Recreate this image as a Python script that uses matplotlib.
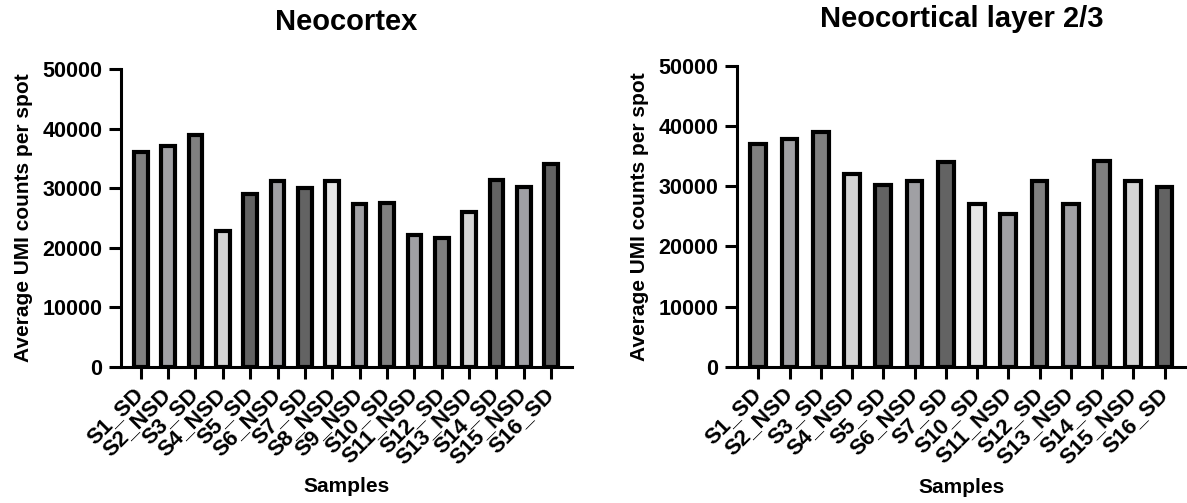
import matplotlib
matplotlib.use("Agg")
import matplotlib.pyplot as plt

plt.rcParams['font.family'] = ['Liberation Sans', 'DejaVu Sans']
plt.rcParams['font.weight'] = 'bold'

# Data
left_title = "Neocortex"
left_labels = ["S1_SD", "S2_NSD", "S3_SD", "S4_NSD", "S5_SD", "S6_NSD", "S7_SD", "S8_NSD",
               "S9_NSD", "S10_SD", "S11_NSD", "S12_SD", "S13_NSD", "S14_SD", "S15_NSD", "S16_SD"]
left_values = [36100, 37100, 39000, 22800, 29000, 31200, 30100, 31200,
               27400, 27600, 22200, 21700, 26000, 31300, 30200, 34100]
left_colors = ["#808080", "#a0a0a4", "#808080", "#d4d4d4", "#636363", "#a0a0a4", "#636363", "#e6e6e6",
               "#a0a0a4", "#808080", "#a0a0a4", "#808080", "#d4d4d4", "#636363", "#a0a0a4", "#636363"]

right_title = "Neocortical layer 2/3"
right_labels = ["S1_SD", "S2_NSD", "S3_SD", "S4_NSD", "S5_SD", "S6_NSD", "S7_SD",
                "S10_SD", "S11_NSD", "S12_SD", "S13_NSD", "S14_SD", "S15_NSD", "S16_SD"]
right_values = [37000, 37800, 39000, 32100, 30200, 30800, 34100,
                27000, 25400, 30900, 27100, 34150, 30850, 29800]
right_colors = ["#808080", "#a0a0a4", "#808080", "#d4d4d4", "#636363", "#a0a0a4", "#636363",
                "#e6e6e6", "#a0a0a4", "#808080", "#a0a0a4", "#808080", "#d4d4d4", "#636363"]

y_ticks = [0, 10000, 20000, 30000, 40000, 50000]
y_label = "Average UMI counts per spot"
x_label = "Samples"

W, H = 1187, 503
fig = plt.figure(figsize=(W / 100, H / 100), dpi=100)

def panel(rect, labels, values, colors, title, xpad):
    ax = fig.add_axes(rect)
    x = list(range(len(labels)))
    ax.bar(x, values, width=0.5, color=colors, edgecolor="black", linewidth=3.0, zorder=3)
    ax.set_xlim(-xpad, len(labels) - 1 + xpad + 0.04)
    ax.set_ylim(0, 50000)
    ax.set_yticks(y_ticks)
    ax.set_yticklabels([str(v) for v in y_ticks], fontsize=15.5, fontweight='bold')
    ax.set_xticks(x)
    ax.set_xticklabels(labels, rotation=45, ha='right', va='center', rotation_mode='anchor',
                       fontsize=16, fontweight='bold')
    for s in ['top', 'right']:
        ax.spines[s].set_visible(False)
    for s in ['left', 'bottom']:
        ax.spines[s].set_linewidth(2.2)
    ax.tick_params(axis='both', which='major', direction='out', length=8.5, width=2.2, color='black')
    ax.tick_params(axis='y', pad=5)
    ax.tick_params(axis='x', pad=9)
    ax.set_title(title, fontsize=21, fontweight='bold', pad=28)
    ax.set_ylabel(y_label, fontsize=15, fontweight='bold', labelpad=7)
    ax.set_xlabel(x_label, fontsize=15, fontweight='bold')
    ax.xaxis.set_label_coords(0.5, -0.37)
    return ax

axL = panel([121 / W, 1 - 367 / H, 451 / W, 298 / H], left_labels, left_values, left_colors, left_title, 0.72)
axR = panel([737 / W, 1 - 366.7 / H, 450 / W, 300.7 / H], right_labels, right_values, right_colors, right_title, 0.68)

fig.savefig("out.png", dpi=100)
